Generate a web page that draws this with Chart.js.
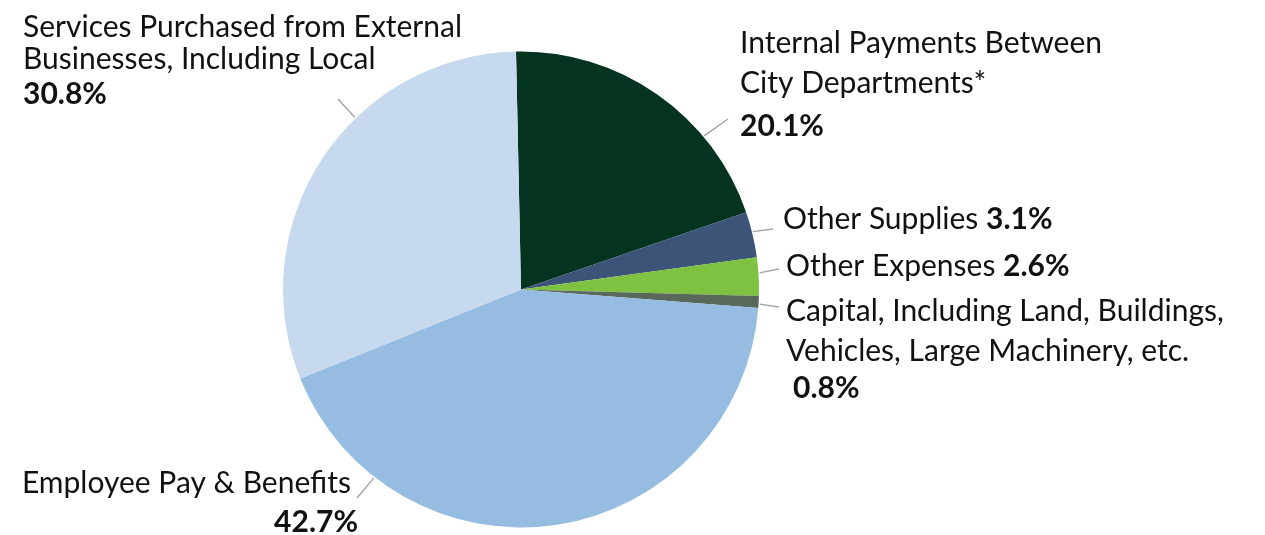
<!DOCTYPE html>
<html>
<head>
<meta charset="utf-8">
<script src="https://cdn.jsdelivr.net/npm/chart.js@4.4.1/dist/chart.umd.min.js"></script>
<style>
  html, body { margin: 0; padding: 0; background: #fff; }
  #wrap { width: 1265px; height: 535px; position: relative; }
</style>
</head>
<body>
<div id="wrap"><canvas id="pie" width="1265" height="535"></canvas></div>
<script>
// ---- data ----
const categories = [
  'Internal Payments Between City Departments*',
  'Other Supplies',
  'Other Expenses',
  'Capital, Including Land, Buildings, Vehicles, Large Machinery, etc.',
  'Employee Pay & Benefits',
  'Services Purchased from External Businesses, Including Local'
];
const shares = [20.1, 3.1, 2.6, 0.8, 42.7, 30.8];
const sliceColors = ['#04331f', '#3b5477', '#7fc241', '#58695c', '#96bce2', '#c6d9ef'];

// ---- label layout (text runs per line; {v} = slice value) ----
const FONT = 'Lato';
const SIZE = 30;
const labelLayout = [
  { lines: [['Internal Payments Between'], ['City Departments*'], [null, '{v}']],
    x: 740, ys: [53, 93, 136], align: 'left', lead: [50, 728, 119] },
  { lines: [['Other Supplies ', '{v}']],
    x: 783, ys: [229], align: 'left', lead: [76, 773, 229] },
  { lines: [['Other Expenses ', '{v}']],
    x: 786, ys: [276], align: 'left', lead: [86, 779, 269] },
  { lines: [['Capital, Including Land, Buildings,'], ['Vehicles, Large Machinery, etc.'], [null, '{v}']],
    x: 786, ys: [321, 361, 398], xs: [786, 786, 793], align: 'left', lead: [93.5, 779, 307] },
  { lines: [['Employee Pay & Benefits'], [null, '{v}']],
    x: 351, ys: [493, 532], xs: [351, 358], align: 'right', lead: [218, 357, 498] },
  { lines: [['Services Purchased from External'], ['Businesses, Including Local'], [null, '{v}']],
    x: 23, ys: [37, 69, 104], align: 'left', lead: [316, 338, 99] }
];

const calloutPlugin = {
  id: 'callouts',
  afterDatasetsDraw(chart) {
    const ctx = chart.ctx;
    const arc = chart.getDatasetMeta(0).data[0];
    const cx = arc.x, cy = arc.y, r = arc.outerRadius;
    ctx.save();
    labelLayout.forEach((lab, i) => {
      // leader line
      const a = lab.lead[0] * Math.PI / 180;
      ctx.strokeStyle = '#a3a3a3';
      ctx.lineWidth = 1.4;
      ctx.beginPath();
      ctx.moveTo(cx + Math.sin(a) * (r + 1), cy - Math.cos(a) * (r + 1));
      ctx.lineTo(lab.lead[1], lab.lead[2]);
      ctx.stroke();

      // text
      const pct = shares[i].toFixed(1) + '%';
      ctx.fillStyle = '#111';
      ctx.textBaseline = 'alphabetic';
      lab.lines.forEach((runs, li) => {
        const parts = [];
        if (runs[0]) parts.push({ t: runs[0], b: false });
        if (runs[1]) parts.push({ t: runs[1].replace('{v}', pct), b: true });
        const fonts = parts.map(p => (p.b ? 'bold ' : '') + SIZE + 'px ' + FONT);
        let widths = parts.map((p, k) => { ctx.font = fonts[k]; return ctx.measureText(p.t).width; });
        const total = widths.reduce((s, w) => s + w, 0);
        let x = lab.xs ? lab.xs[li] : lab.x;
        if (lab.align === 'right') x -= total;
        parts.forEach((p, k) => {
          ctx.font = fonts[k];
          ctx.textAlign = 'left';
          ctx.fillText(p.t, x, lab.ys[li]);
          x += widths[k];
        });
      });
    });
    ctx.restore();
  }
};

new Chart(document.getElementById('pie'), {
  type: 'pie',
  data: {
    labels: categories,
    datasets: [{
      data: shares,
      backgroundColor: sliceColors,
      borderWidth: 0
    }]
  },
  options: {
    responsive: false,
    animation: false,
    rotation: -1.2,
    layout: { padding: { left: 283, right: 506, top: 51, bottom: 7 } },
    plugins: { legend: { display: false }, tooltip: { enabled: false } }
  },
  plugins: [calloutPlugin]
});
</script>
</body>
</html>
